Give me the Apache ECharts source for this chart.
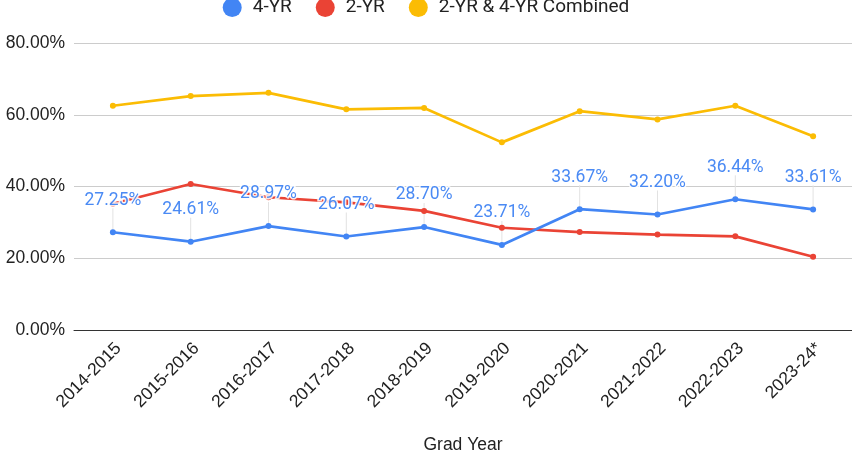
<!DOCTYPE html>
<html>
<head>
<meta charset="utf-8">
<script src="https://cdn.jsdelivr.net/npm/echarts@6/dist/echarts.min.js"></script>
<style>
  html, body { margin: 0; padding: 0; background: #fff; }
  #chart { width: 852px; height: 453px; }
</style>
</head>
<body>
<div id="chart"></div>
<script>
// 数据
var years = ['2014-2015', '2015-2016', '2016-2017', '2017-2018', '2018-2019',
             '2019-2020', '2020-2021', '2021-2022', '2022-2023', '2023-24*'];
var fourYr = [27.25, 24.61, 28.97, 26.07, 28.70, 23.71, 33.67, 32.20, 36.44, 33.61];
var twoYr = [35.2, 40.7, 37.0, 35.6, 33.2, 28.5, 27.3, 26.6, 26.1, 20.4];
var combined = [62.5, 65.2, 66.1, 61.5, 61.9, 52.3, 61.0, 58.7, 62.5, 54.0];
var yTicks = [0, 20, 40, 60, 80];

var blue = '#4285f4', red = '#ea4335', yellow = '#fbbc04';
var axisFont = 'Arial, Liberation Sans';

var chart = echarts.init(document.getElementById('chart'));
var option = {
    animation: false,
    legend: {
        data: [
            {name: '4-YR', icon: 'circle'},
            {name: '2-YR', icon: 'circle'},
            {name: '2-YR & 4-YR Combined', icon: 'circle'}
        ],
        top: -2,
        left: 'center',
        padding: 0,
        itemWidth: 19,
        itemHeight: 19,
        itemGap: 24,
        textStyle: {
            fontFamily: 'Roboto',
            fontSize: 19,
            color: '#222',
            padding: [0, 0, 0, 6]
        }
    },
    grid: {
        left: 74,
        right: 0,
        top: 43,
        bottom: 123,
        outerBoundsMode: 'none'
    },
    xAxis: {
        type: 'category',
        data: years,
        boundaryGap: true,
        z: 5,
        name: 'Grad Year',
        nameLocation: 'middle',
        nameGap: 106,
        nameTextStyle: {
            fontFamily: axisFont,
            fontSize: 17.5,
            color: '#222'
        },
        axisTick: {show: false},
        axisLine: {
            lineStyle: {color: '#333', width: 1}
        },
        axisLabel: {
            rotate: 45,
            interval: 0,
            margin: 10,
            formatter: function (v) { return '{a|' + v + '}'; },
            rich: {
                a: {
                    padding: [16, 0, 0, 0],
                    fontFamily: axisFont,
                    fontSize: 17.5,
                    color: '#222'
                }
            },
            fontFamily: axisFont,
            fontSize: 17.5,
            color: '#222'
        }
    },
    yAxis: {
        type: 'value',
        min: yTicks[0],
        max: yTicks[yTicks.length - 1],
        interval: 20,
        axisLine: {show: false},
        axisTick: {show: false},
        axisLabel: {
            margin: 9,
            fontFamily: axisFont,
            fontSize: 17.5,
            color: '#222',
            formatter: function (v) { return v.toFixed(2) + '%'; }
        },
        splitLine: {
            lineStyle: {color: '#cccccc', width: 1}
        }
    },
    series: [
        {
            // 标注引线
            name: 'stems',
            type: 'custom',
            z: 1,
            silent: true,
            data: fourYr.map(function (v, i) { return [i, v]; }),
            renderItem: function (params, api) {
                var p = api.coord([api.value(0), api.value(1)]);
                return {
                    type: 'line',
                    shape: {x1: p[0], y1: p[1], x2: p[0], y2: p[1] - 24},
                    style: {stroke: '#e2e2e2', lineWidth: 1}
                };
            }
        },
        {
            name: '2-YR & 4-YR Combined',
            type: 'line',
            data: combined,
            symbol: 'circle',
            symbolSize: 6,
            itemStyle: {color: yellow},
            lineStyle: {color: yellow, width: 2.7}
        },
        {
            name: '2-YR',
            type: 'line',
            data: twoYr,
            symbol: 'circle',
            symbolSize: 6,
            itemStyle: {color: red},
            lineStyle: {color: red, width: 2.7}
        },
        {
            name: '4-YR',
            type: 'line',
            data: fourYr,
            symbol: 'circle',
            symbolSize: 6,
            itemStyle: {color: blue},
            lineStyle: {color: blue, width: 2.7},
            label: {
                show: true,
                position: 'top',
                distance: 20,
                fontFamily: 'Roboto',
                fontSize: 17.5,
                color: '#4a8af4',
                textBorderColor: 'rgba(255,255,255,0.85)',
                textBorderWidth: 3,
                formatter: function (p) { return p.value.toFixed(2) + '%'; }
            }
        }
    ]
};
chart.setOption(option);
</script>
</body>
</html>
